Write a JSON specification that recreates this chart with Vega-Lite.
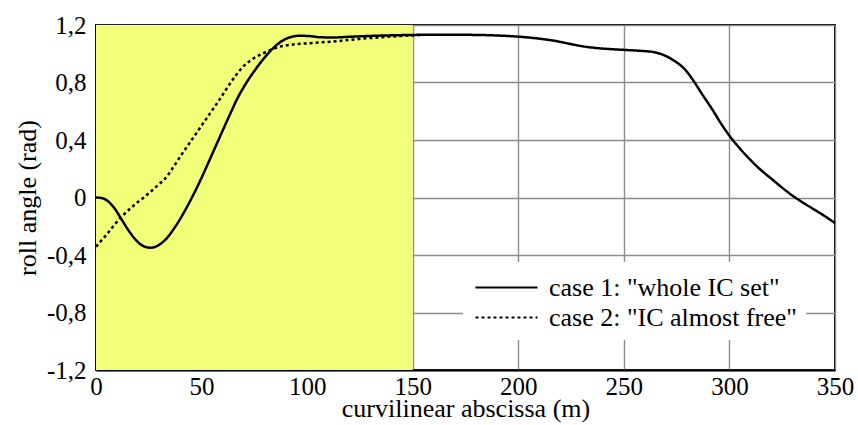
{
  "$schema": "https://vega.github.io/schema/vega-lite/v6.json",
  "width": 739,
  "height": 345,
  "autosize": {"type": "none"},
  "padding": {"left": 96, "top": 25, "right": 23, "bottom": 55},
  "background": "white",
  "config": {
    "font": "Liberation Serif",
    "view": {"stroke": "black", "strokeWidth": 2},
    "axis": {
      "zindex": 1,
      "grid": true,
      "gridColor": "#8c8c8c",
      "gridWidth": 1.4,
      "tickSize": 0,
      "domainColor": "black",
      "domainWidth": 2,
      "labelFont": "Liberation Serif",
      "labelFontSize": 25,
      "labelColor": "black",
      "labelFlush": false,
      "labelOverlap": false,
      "titleFont": "Liberation Serif",
      "titleFontSize": 26,
      "titleFontWeight": "normal",
      "titleColor": "black"
    }
  },
  "datasets": {
    "zone": [{"x0": 0, "x1": 150, "y0": -1.2, "y1": 1.2}],
    "curves": [
      {"s": 0, "roll": 0.0, "case": "case 1: \"whole IC set\""},
      {"s": 3, "roll": -0.005, "case": "case 1: \"whole IC set\""},
      {"s": 6, "roll": -0.03, "case": "case 1: \"whole IC set\""},
      {"s": 9, "roll": -0.08, "case": "case 1: \"whole IC set\""},
      {"s": 12, "roll": -0.15, "case": "case 1: \"whole IC set\""},
      {"s": 15, "roll": -0.22, "case": "case 1: \"whole IC set\""},
      {"s": 18, "roll": -0.28, "case": "case 1: \"whole IC set\""},
      {"s": 21, "roll": -0.325, "case": "case 1: \"whole IC set\""},
      {"s": 24, "roll": -0.346, "case": "case 1: \"whole IC set\""},
      {"s": 26, "roll": -0.349, "case": "case 1: \"whole IC set\""},
      {"s": 28, "roll": -0.343, "case": "case 1: \"whole IC set\""},
      {"s": 31, "roll": -0.318, "case": "case 1: \"whole IC set\""},
      {"s": 34, "roll": -0.275, "case": "case 1: \"whole IC set\""},
      {"s": 37, "roll": -0.215, "case": "case 1: \"whole IC set\""},
      {"s": 40, "roll": -0.146, "case": "case 1: \"whole IC set\""},
      {"s": 43, "roll": -0.068, "case": "case 1: \"whole IC set\""},
      {"s": 46, "roll": 0.016, "case": "case 1: \"whole IC set\""},
      {"s": 49, "roll": 0.106, "case": "case 1: \"whole IC set\""},
      {"s": 52, "roll": 0.202, "case": "case 1: \"whole IC set\""},
      {"s": 55, "roll": 0.301, "case": "case 1: \"whole IC set\""},
      {"s": 58, "roll": 0.4, "case": "case 1: \"whole IC set\""},
      {"s": 61, "roll": 0.499, "case": "case 1: \"whole IC set\""},
      {"s": 64, "roll": 0.596, "case": "case 1: \"whole IC set\""},
      {"s": 67, "roll": 0.69, "case": "case 1: \"whole IC set\""},
      {"s": 71.3, "roll": 0.8, "case": "case 1: \"whole IC set\""},
      {"s": 75, "roll": 0.88, "case": "case 1: \"whole IC set\""},
      {"s": 78, "roll": 0.94, "case": "case 1: \"whole IC set\""},
      {"s": 81, "roll": 0.993, "case": "case 1: \"whole IC set\""},
      {"s": 84, "roll": 1.04, "case": "case 1: \"whole IC set\""},
      {"s": 87, "roll": 1.078, "case": "case 1: \"whole IC set\""},
      {"s": 90, "roll": 1.104, "case": "case 1: \"whole IC set\""},
      {"s": 93, "roll": 1.119, "case": "case 1: \"whole IC set\""},
      {"s": 96, "roll": 1.125, "case": "case 1: \"whole IC set\""},
      {"s": 100, "roll": 1.124, "case": "case 1: \"whole IC set\""},
      {"s": 106, "roll": 1.115, "case": "case 1: \"whole IC set\""},
      {"s": 112, "roll": 1.113, "case": "case 1: \"whole IC set\""},
      {"s": 120, "roll": 1.118, "case": "case 1: \"whole IC set\""},
      {"s": 130, "roll": 1.124, "case": "case 1: \"whole IC set\""},
      {"s": 140, "roll": 1.128, "case": "case 1: \"whole IC set\""},
      {"s": 150, "roll": 1.131, "case": "case 1: \"whole IC set\""},
      {"s": 160, "roll": 1.132, "case": "case 1: \"whole IC set\""},
      {"s": 170, "roll": 1.132, "case": "case 1: \"whole IC set\""},
      {"s": 180, "roll": 1.131, "case": "case 1: \"whole IC set\""},
      {"s": 190, "roll": 1.127, "case": "case 1: \"whole IC set\""},
      {"s": 200, "roll": 1.119, "case": "case 1: \"whole IC set\""},
      {"s": 210, "roll": 1.105, "case": "case 1: \"whole IC set\""},
      {"s": 218, "roll": 1.088, "case": "case 1: \"whole IC set\""},
      {"s": 224, "roll": 1.07, "case": "case 1: \"whole IC set\""},
      {"s": 230, "roll": 1.053, "case": "case 1: \"whole IC set\""},
      {"s": 237, "roll": 1.04, "case": "case 1: \"whole IC set\""},
      {"s": 244, "roll": 1.032, "case": "case 1: \"whole IC set\""},
      {"s": 250, "roll": 1.027, "case": "case 1: \"whole IC set\""},
      {"s": 258, "roll": 1.02, "case": "case 1: \"whole IC set\""},
      {"s": 264, "roll": 1.012, "case": "case 1: \"whole IC set\""},
      {"s": 268, "roll": 0.996, "case": "case 1: \"whole IC set\""},
      {"s": 272, "roll": 0.968, "case": "case 1: \"whole IC set\""},
      {"s": 275, "roll": 0.94, "case": "case 1: \"whole IC set\""},
      {"s": 279, "roll": 0.89, "case": "case 1: \"whole IC set\""},
      {"s": 282.6, "roll": 0.82, "case": "case 1: \"whole IC set\""},
      {"s": 287, "roll": 0.72, "case": "case 1: \"whole IC set\""},
      {"s": 292, "roll": 0.61, "case": "case 1: \"whole IC set\""},
      {"s": 296, "roll": 0.515, "case": "case 1: \"whole IC set\""},
      {"s": 300, "roll": 0.43, "case": "case 1: \"whole IC set\""},
      {"s": 305, "roll": 0.34, "case": "case 1: \"whole IC set\""},
      {"s": 309.7, "roll": 0.265, "case": "case 1: \"whole IC set\""},
      {"s": 315, "roll": 0.19, "case": "case 1: \"whole IC set\""},
      {"s": 320.6, "roll": 0.122, "case": "case 1: \"whole IC set\""},
      {"s": 325, "roll": 0.068, "case": "case 1: \"whole IC set\""},
      {"s": 329.4, "roll": 0.018, "case": "case 1: \"whole IC set\""},
      {"s": 334, "roll": -0.028, "case": "case 1: \"whole IC set\""},
      {"s": 339.5, "roll": -0.078, "case": "case 1: \"whole IC set\""},
      {"s": 345, "roll": -0.128, "case": "case 1: \"whole IC set\""},
      {"s": 350, "roll": -0.178, "case": "case 1: \"whole IC set\""},
      {"s": 0, "roll": -0.342, "case": "case 2: \"IC almost free\""},
      {"s": 5, "roll": -0.258, "case": "case 2: \"IC almost free\""},
      {"s": 11.4, "roll": -0.145, "case": "case 2: \"IC almost free\""},
      {"s": 16, "roll": -0.08, "case": "case 2: \"IC almost free\""},
      {"s": 20, "roll": -0.029, "case": "case 2: \"IC almost free\""},
      {"s": 22.7, "roll": 0.0, "case": "case 2: \"IC almost free\""},
      {"s": 26, "roll": 0.042, "case": "case 2: \"IC almost free\""},
      {"s": 30, "roll": 0.095, "case": "case 2: \"IC almost free\""},
      {"s": 33.5, "roll": 0.145, "case": "case 2: \"IC almost free\""},
      {"s": 37, "roll": 0.22, "case": "case 2: \"IC almost free\""},
      {"s": 40.6, "roll": 0.3, "case": "case 2: \"IC almost free\""},
      {"s": 45.3, "roll": 0.4, "case": "case 2: \"IC almost free\""},
      {"s": 50, "roll": 0.5, "case": "case 2: \"IC almost free\""},
      {"s": 54, "roll": 0.585, "case": "case 2: \"IC almost free\""},
      {"s": 58, "roll": 0.67, "case": "case 2: \"IC almost free\""},
      {"s": 62, "roll": 0.76, "case": "case 2: \"IC almost free\""},
      {"s": 66, "roll": 0.845, "case": "case 2: \"IC almost free\""},
      {"s": 70, "roll": 0.915, "case": "case 2: \"IC almost free\""},
      {"s": 74, "roll": 0.962, "case": "case 2: \"IC almost free\""},
      {"s": 78, "roll": 0.995, "case": "case 2: \"IC almost free\""},
      {"s": 82, "roll": 1.022, "case": "case 2: \"IC almost free\""},
      {"s": 86, "roll": 1.045, "case": "case 2: \"IC almost free\""},
      {"s": 92, "roll": 1.062, "case": "case 2: \"IC almost free\""},
      {"s": 99.7, "roll": 1.072, "case": "case 2: \"IC almost free\""},
      {"s": 112, "roll": 1.085, "case": "case 2: \"IC almost free\""},
      {"s": 128, "roll": 1.107, "case": "case 2: \"IC almost free\""},
      {"s": 143.8, "roll": 1.123, "case": "case 2: \"IC almost free\""},
      {"s": 155, "roll": 1.131, "case": "case 2: \"IC almost free\""}
    ]
  },
  "layer": [
    {
      "data": {"name": "zone"},
      "mark": {"type": "rect", "color": "#f2ff78", "opacity": 1},
      "encoding": {
        "x": {
          "field": "x0",
          "type": "quantitative",
          "scale": {"domain": [0, 350], "nice": false, "zero": false},
          "axis": {
            "values": [0, 50, 100, 150, 200, 250, 300, 350],
            "labelPadding": 4,
            "title": "curvilinear abscissa (m)",
            "titlePadding": -4
          }
        },
        "x2": {"field": "x1"},
        "y": {
          "field": "y0",
          "type": "quantitative",
          "scale": {"domain": [-1.2, 1.2], "nice": false, "zero": false},
          "axis": {
            "values": [-1.2, -0.8, -0.4, 0, 0.4, 0.8, 1.2],
            "labelExpr": "datum.value == 0 ? '0' : (datum.value < 0 ? '-' : '') + replace(format(abs(datum.value), '.1f'), '.', ',')",
            "labelPadding": 10,
            "title": "roll angle (rad)",
            "titlePadding": 6
          }
        },
        "y2": {"field": "y1"}
      }
    },
    {
      "data": {"name": "curves"},
      "mark": {"type": "line", "color": "black", "strokeWidth": 2.5, "interpolate": "monotone"},
      "encoding": {
        "x": {"field": "s", "type": "quantitative"},
        "y": {"field": "roll", "type": "quantitative"},
        "strokeDash": {
          "field": "case",
          "type": "nominal",
          "scale": {
            "domain": ["case 1: \"whole IC set\"", "case 2: \"IC almost free\""],
            "range": [[1, 0], [3, 3]]
          },
          "legend": {
            "title": null,
            "orient": "none",
            "legendX": 367,
            "legendY": 237,
            "fillColor": "white",
            "padding": 9,
            "zindex": 2,
            "symbolType": "M-2,0H2",
            "symbolSize": 961,
            "symbolOffset": 18,
            "symbolStrokeWidth": 2,
            "symbolStrokeColor": "black",
            "symbolFillColor": "transparent",
            "labelFont": "Liberation Serif",
            "labelFontSize": 26,
            "labelColor": "black",
            "labelOffset": 26,
            "labelLimit": 400,
            "rowPadding": 0
          }
        }
      }
    }
  ]
}
